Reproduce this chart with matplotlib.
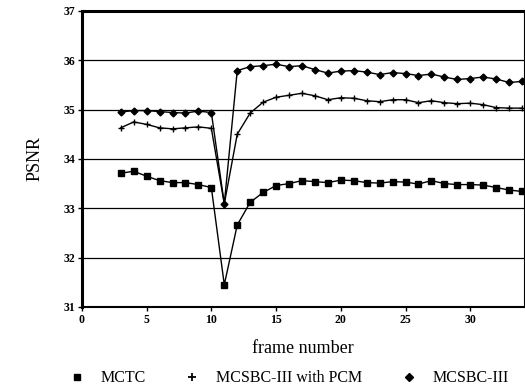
import matplotlib
matplotlib.use("Agg")
import matplotlib.pyplot as plt
from matplotlib.lines import Line2D

plt.rcParams['font.family'] = ['Liberation Serif', 'DejaVu Serif']

frames = list(range(3, 35))

# MCTC
mctc = [33.71, 33.75, 33.65, 33.56, 33.52, 33.52, 33.48, 33.42,
        31.45, 32.66, 33.12, 33.32, 33.46, 33.50, 33.56, 33.54,
        33.52, 33.57, 33.56, 33.52, 33.51, 33.54, 33.53, 33.49,
        33.56, 33.50, 33.48, 33.48, 33.47, 33.42, 33.37, 33.34]

# MCSBC-III with PCM
pcm = [34.63, 34.75, 34.70, 34.63, 34.61, 34.63, 34.65, 34.62,
       33.09, 34.50, 34.93, 35.15, 35.25, 35.29, 35.33, 35.28,
       35.20, 35.24, 35.23, 35.18, 35.16, 35.20, 35.20, 35.14,
       35.18, 35.14, 35.12, 35.13, 35.10, 35.04, 35.03, 35.03]

# MCSBC-III
sbc = [34.95, 34.98, 34.98, 34.96, 34.94, 34.93, 34.97, 34.94,
       33.09, 35.79, 35.87, 35.89, 35.92, 35.87, 35.89, 35.81,
       35.74, 35.78, 35.79, 35.76, 35.71, 35.75, 35.73, 35.69,
       35.72, 35.66, 35.61, 35.63, 35.66, 35.62, 35.55, 35.57]

fig = plt.figure(figsize=(5.25, 3.9), dpi=100)
ax = fig.add_axes([0.156, 0.213, 0.842, 0.759])

for y in [32, 33, 34, 35, 36]:
    ax.axhline(y, color='black', lw=0.9, zorder=1)

ax.plot(frames, mctc, color='black', lw=1.0, marker='s', ms=4, zorder=3)
ax.plot(frames, pcm, color='black', lw=1.0, marker='+', ms=4, mew=1.0, zorder=3)
ax.plot(frames, sbc, color='black', lw=1.0, marker='D', ms=3.5, zorder=3)

ax.set_xlim(0, 34.15)
ax.set_ylim(31, 37)
ax.set_xticks([0, 5, 10, 15, 20, 25, 30])
ax.set_yticks([31, 32, 33, 34, 35, 36, 37])
ax.tick_params(axis='both', labelsize=8.5, length=3, width=1, direction='out', pad=2)
for lab in ax.get_xticklabels() + ax.get_yticklabels():
    lab.set_fontweight('bold')

ax.spines['left'].set_linewidth(2.2)
ax.spines['top'].set_linewidth(2.2)
ax.spines['bottom'].set_linewidth(1.5)
ax.spines['right'].set_linewidth(0.8)

ax.set_xlabel('frame number', fontsize=13, labelpad=10)
ax.set_ylabel('PSNR', fontsize=13, labelpad=14)

handles = [
    Line2D([], [], color='black', ls='none', marker='s', ms=5),
    Line2D([], [], color='black', ls='none', marker='+', ms=6, mew=1.3),
    Line2D([], [], color='black', ls='none', marker='D', ms=4.5),
]
labels = ['MCTC', 'MCSBC-III with PCM', 'MCSBC-III']
fig.legend(handles, labels, loc='center', bbox_to_anchor=(0.55, 0.03), ncol=3,
           frameon=False, fontsize=11.5, handlelength=1.0, handletextpad=1.0,
           columnspacing=2.4)

fig.savefig('out.png', dpi=100)
